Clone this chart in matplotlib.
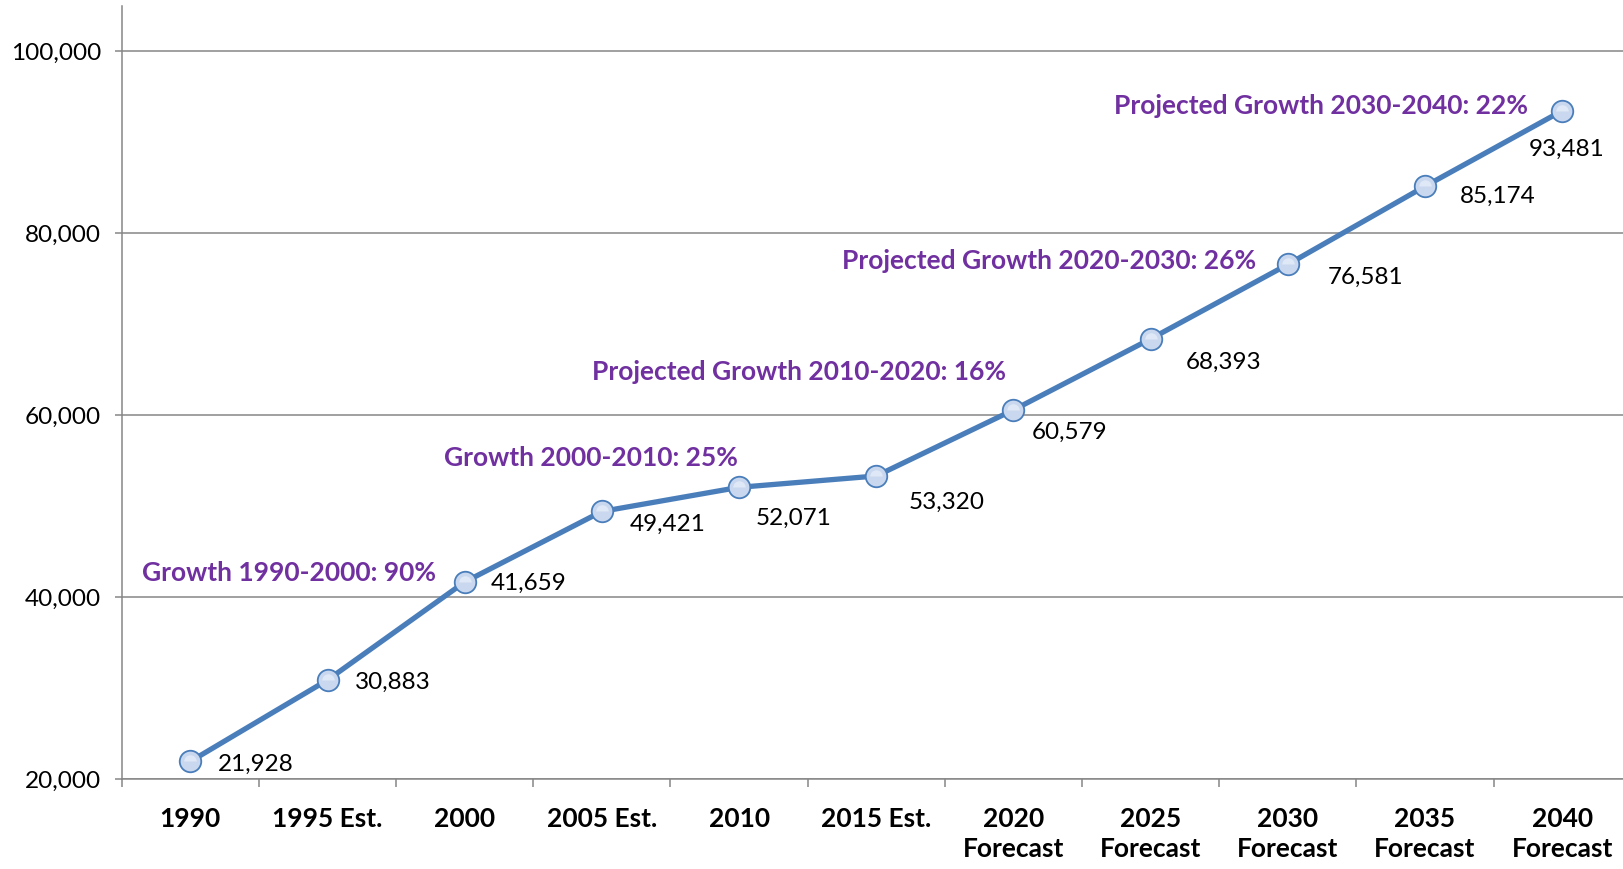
import matplotlib
matplotlib.use("Agg")
import matplotlib.pyplot as plt
from matplotlib.ticker import FuncFormatter

plt.rcParams["font.family"] = ["Lato", "DejaVu Sans"]

# data
years = ["1990", "1995 Est.", "2000", "2005 Est.", "2010", "2015 Est.",
         "2020\nForecast", "2025\nForecast", "2030\nForecast",
         "2035\nForecast", "2040\nForecast"]
population = [21928, 30883, 41659, 49421, 52071, 53320,
              60579, 68393, 76581, 85174, 93481]

growth_text = ["Growth 1990-2000: 90%", "Growth 2000-2010: 25%",
               "Projected Growth 2010-2020: 16%", "Projected Growth 2020-2030: 26%",
               "Projected Growth 2030-2040: 22%"]
growth_x = [0.72, 2.92, 4.44, 6.26, 8.24]
growth_y = [42700, 55300, 64700, 77000, 94000]

# label offsets in points (dx to left edge of text, dy to its centre)
label_dx = [20, 20, 19, 20, 12, 23, 13, 25, 29, 25, -24]
label_dy = [-2, -2, -1, -9, -22, -19, -16, -17, -9, -7, -28]

LINE = "#4a7ebb"
GRID = "#868686"
PURPLE = "#7030a0"

fig = plt.figure(figsize=(16.23, 8.69), dpi=100)
ax = fig.add_axes([0.0750, 0.1036, 0.9298, 0.8895])

x = list(range(len(years)))
ax.plot(x, population, color=LINE, lw=3.8, marker="o", ms=15.5,
        mfc="#c9d8ef", mec=LINE, mew=1.3, zorder=3)
# lighter upper half of the markers, like a soft gradient
ax.plot(x, population, ls="none", marker="o", ms=9, fillstyle="top",
        mfc="#dfe8f6", mec="none", zorder=3.5)

for xi, v, dx, dy in zip(x, population, label_dx, label_dy):
    ax.annotate(f"{v:,}", (xi, v), xytext=(dx, dy), textcoords="offset points",
                ha="left", va="center", fontsize=17.5, color="black", zorder=4)

for t, gx, gy in zip(growth_text, growth_x, growth_y):
    ax.text(gx, gy, t, ha="center", va="center", fontsize=19,
            fontweight="bold", color=PURPLE, zorder=4)

ax.set_xlim(-0.5, len(years) - 0.5)
ax.set_ylim(20000, 105000)
ax.set_yticks([20000, 40000, 60000, 80000, 100000])
ax.yaxis.set_major_formatter(FuncFormatter(lambda v, p: f"{int(v):,}"))
ax.grid(axis="y", color=GRID, lw=1.1)
ax.set_axisbelow(True)

ax.set_xticks([i - 0.5 for i in range(len(years) + 1)])
ax.set_xticklabels([])
ax.set_xticks(x, minor=True)
ax.set_xticklabels(years, minor=True, fontsize=19, fontweight="bold",
                   linespacing=1.3)
ax.tick_params(axis="x", which="major", length=6, width=1.1, color=GRID)
ax.tick_params(axis="x", which="minor", length=0, pad=20)
ax.tick_params(axis="y", length=5, width=1.1, color=GRID, labelsize=17.6, pad=10)

for s in ["top", "right"]:
    ax.spines[s].set_visible(False)
for s in ["left", "bottom"]:
    ax.spines[s].set_color(GRID)
    ax.spines[s].set_linewidth(1.1)

fig.savefig("out.png", dpi=100)
